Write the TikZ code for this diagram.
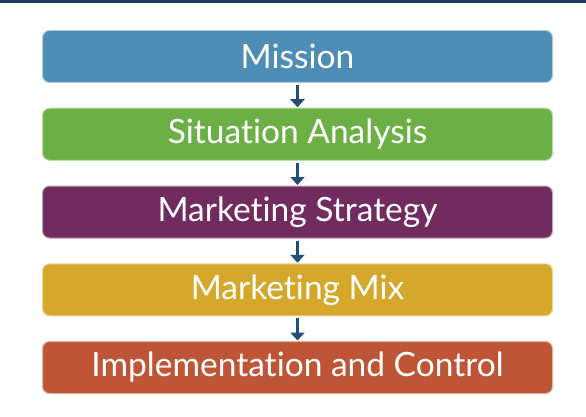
\documentclass[tikz,border=0pt]{standalone}
\usepackage{fontspec}
\setmainfont{Lato}[Ligatures=NoCommon]
\usepackage{xcolor}
\usetikzlibrary{arrows.meta}
\definecolor{topbar}{HTML}{1C3A5E}
\definecolor{missionblue}{HTML}{4E8DB6}
\definecolor{situationgreen}{HTML}{6BAF45}
\definecolor{strategypurple}{HTML}{722B5F}
\definecolor{mixgold}{HTML}{D5A72A}
\definecolor{controlred}{HTML}{BE5537}
\definecolor{flowblue}{HTML}{1F4E79}

\begin{document}
\begin{tikzpicture}[x=1pt,y=-1pt]

        \tikzstyle{stage} = [rectangle, rounded corners=7pt, minimum width=510pt, minimum height=52pt,
                             line width=1pt, text=white, font=\fontsize{33.5}{36}\selectfont, inner sep=0pt]
        \tikzstyle{flow}  = [draw=flowblue, line width=3pt, -{Triangle[width=14pt,length=8pt]},
                             shorten <=2pt, shorten >=0.5pt]

        \useasboundingbox (0,0) rectangle (586,417);
        \fill [topbar] (0,0) rectangle (586,3);

        \foreach \i/\name/\col/\txt in {0/mission/missionblue/Mission,
                                        1/situation/situationgreen/Situation Analysis,
                                        2/strategy/strategypurple/Marketing Strategy,
                                        3/mix/mixgold/Marketing Mix,
                                        4/control/controlred/Implementation and Control}
        {
                \node [stage, fill=\col, draw=\col!45!white](\name) at (297.5, 56.5+77.75*\i) {\txt};
        }

        \foreach \a/\b in {mission/situation, situation/strategy, strategy/mix, mix/control}
        {
                \draw [flow] (\a) -- (\b);
        }

\end{tikzpicture}
\end{document}
